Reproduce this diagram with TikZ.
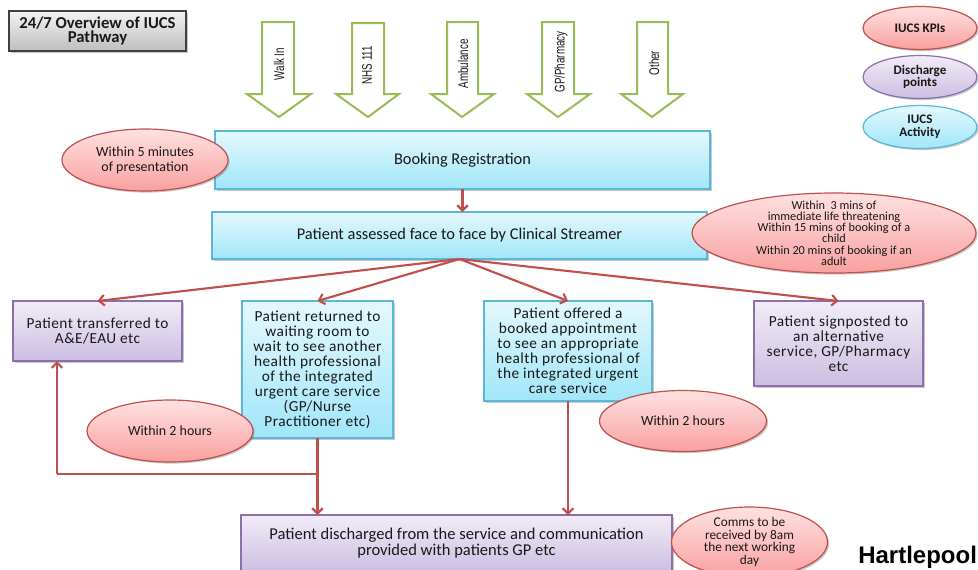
\documentclass[tikz,border=0pt]{standalone}
\usepackage{fontspec}
\setmainfont{Carlito}
\newfontfamily\trackfont{Carlito}[LetterSpace=3.0]
\newfontfamily\armfont{Liberation Sans}
\usetikzlibrary{arrows.meta,shapes.geometric,shadows}
\definecolor{cyanTop}{RGB}{228,248,253}
\definecolor{cyanBottom}{RGB}{160,230,249}
\definecolor{cyanBorder}{RGB}{91,183,213}
\definecolor{purpTop}{RGB}{241,236,247}
\definecolor{purpBottom}{RGB}{204,190,226}
\definecolor{purpBorder}{RGB}{140,112,172}
\definecolor{pinkTop}{RGB}{255,225,225}
\definecolor{pinkBottom}{RGB}{249,160,160}
\definecolor{pinkBorder}{RGB}{192,80,77}
\definecolor{redline}{RGB}{192,80,77}
\definecolor{greenArrow}{RGB}{155,187,89}
\definecolor{greyTop}{RGB}{243,243,243}
\definecolor{greyBottom}{RGB}{190,190,190}
\definecolor{greyBorder}{RGB}{64,64,64}
\begin{document}
\begin{tikzpicture}[x=0.75pt,y=-0.75pt,
  base/.style={draw, line width=0.9pt, inner sep=0pt, outer sep=0pt, align=center, text=black!90,
    drop shadow={shadow xshift=1.2pt, shadow yshift=-1.2pt, opacity=0.3, fill=black!70}},
  cbox/.style={base, rectangle, draw=cyanBorder, top color=cyanTop, bottom color=cyanBottom},
  pbox/.style={base, rectangle, draw=purpBorder, top color=purpTop, bottom color=purpBottom},
  pell/.style={base, ellipse, draw=pinkBorder, top color=pinkTop, bottom color=pinkBottom},
  rowtext/.style={font=\trackfont\fontsize{11.5pt}{11.25pt}\selectfont},
  wtext/.style={font=\fontsize{12.3pt}{13pt}\selectfont},
  etext/.style={font=\fontsize{10.5pt}{11.5pt}\selectfont},
  legtext/.style={font=\bfseries\fontsize{9.8pt}{9.5pt}\selectfont},
  redarrow/.style={draw=redline, line width=1.6pt, -{Straight Barb[length=4pt,width=8pt]}},
  redpath/.style={draw=redline, line width=1.6pt},
  greenarrow/.style={draw=greenArrow, line width=1.5pt, fill=white, line join=miter},
  armlabel/.style={rotate=90, font=\armfont\fontsize{10.5pt}{12pt}\selectfont, inner sep=0pt, text=black!90}
]
\useasboundingbox (0,0) rectangle (978,569);
\clip (0,0) rectangle (978,569);
\fill[white] (0,0) rectangle (978,569);

% title
\node[base, rectangle, draw=greyBorder, top color=greyTop, bottom color=greyBottom,
  minimum width=132.75pt, minimum height=30pt, font=\bfseries\fontsize{12.5pt}{11pt}\selectfont]
  (title) at (97.5,31) {24/7 Overview of IUCS\\Pathway};

% green entry arrows
\draw[greenarrow] (262,22) -- (294,22) -- (294,94) -- (311,94) -- (279,117) -- (247,94) -- (262,94) -- cycle;
\draw[greenarrow] (352,23) -- (384,23) -- (384,94) -- (399,94) -- (368,117) -- (336,94) -- (352,94) -- cycle;
\draw[greenarrow] (447,22) -- (478,22) -- (478,94) -- (494,94) -- (462,117) -- (431,94) -- (447,94) -- cycle;
\draw[greenarrow] (542,22) -- (574,22) -- (574,94) -- (590,94) -- (558,117) -- (527,94) -- (542,94) -- cycle;
\draw[greenarrow] (637,22) -- (668,22) -- (668,94) -- (683,94) -- (652,117) -- (621,94) -- (637,94) -- cycle;
\node[armlabel] (walkin) at (279,64) {\scalebox{0.7}[1]{Walk In}};
\node[armlabel] (nhs) at (367,65) {\scalebox{0.7}[1]{NHS 111}};
\node[armlabel] (amb) at (463,64) {\scalebox{0.7}[1]{Ambulance}};
\node[armlabel] (gpph) at (561,62) {\scalebox{0.7}[1]{GP/Pharmacy}};
\node[armlabel] (other) at (654,63) {\scalebox{0.7}[1]{Other}};

% legend
\node[pell, minimum width=85.5pt, minimum height=32.25pt, legtext] (kpi) at (920,28) {IUCS KPIs};
\node[base, ellipse, draw=purpBorder, top color=purpTop, bottom color=purpBottom,
  minimum width=85.5pt, minimum height=32.25pt, inner ysep=-4pt, legtext] (ldis) at (920,77) {Discharge\\points};
\node[base, ellipse, draw=cyanBorder, top color=cyanTop, bottom color=cyanBottom,
  minimum width=85.5pt, minimum height=32.25pt, inner ysep=-4pt, legtext] (lact) at (920,127) {IUCS\\Activity};

% boxes
\node[cbox, minimum width=371.25pt, minimum height=43.5pt, wtext] (book) at (462.5,160) {Booking Registration};
\node[cbox, minimum width=371.25pt, minimum height=35.25pt, wtext] (strm) at (459.5,235.5) {Patient assessed face to face by Clinical Streamer};
\node[pbox, minimum width=126.75pt, minimum height=45pt, rowtext] (ae) at (97.5,331) {Patient transferred to\\A\&E/EAU etc};
\node[cbox, minimum width=113.25pt, minimum height=102.75pt, rowtext] (ret) at (317.5,369.5)
  {Patient returned to\\waiting room to\\wait to see another\\health professional\\of the integrated\\urgent care service\\(GP/Nurse\\Practitioner etc)};
\node[cbox, minimum width=126pt, minimum height=75pt, rowtext] (off) at (568,351)
  {Patient offered a\\booked appointment\\to see an appropriate\\health professional of\\the integrated urgent\\care service};
\node[pbox, minimum width=126.75pt, minimum height=63.75pt, rowtext] (sign) at (838.5,343.5)
  {Patient signposted to\\an alternative\\service, GP/Pharmacy\\etc};
\node[pbox, minimum width=323.25pt, minimum height=42.75pt, font=\fontsize{12.4pt}{12pt}\selectfont] (dis) at (456.5,543.5)
  {Patient discharged from the service and communication\\provided with patients GP etc};

% connectors
\draw[redarrow] (book.south) -- (book.south |- strm.north);
\draw[redarrow] (strm.south) -- (ae.north);
\draw[redarrow] (strm.south) -- (ret.north);
\draw[redarrow] (strm.south) -- (off.north);
\draw[redarrow] (strm.south) -- (sign.north);
\coordinate (loopR) at (317.5,474);
\coordinate (loopL) at (57,474);
\draw[redpath] (ret.south) -- (loopR) -- (loopL);
\draw[redarrow] (loopL) -- (loopL |- ae.south);
\draw[redarrow] (loopR) -- (loopR |- dis.north);
\draw[redarrow] (off.south) -- (off.south |- dis.north);

% KPI ellipses
\node[pell, minimum width=124.5pt, minimum height=46.5pt, inner ysep=-4pt, etext] (e5) at (145,160) {Within 5 minutes\\of presentation};
\node[pell, minimum width=213pt, minimum height=60pt, inner ysep=-14pt, inner xsep=-10pt, font=\fontsize{9.2pt}{8.4pt}\selectfont] (ebig) at (834,233)
  {Within\ \ 3 mins of\\immediate life threatening\\Within 15 mins of booking of a\\child\\Within 20 mins of booking if an\\adult};
\node[pell, minimum width=124.5pt, minimum height=46.5pt, etext] (e2l) at (170,431) {Within 2 hours};
\node[pell, minimum width=125.25pt, minimum height=45.75pt, etext] (e2r) at (683,421) {Within 2 hours};
\node[pell, minimum width=117pt, minimum height=52.5pt, inner ysep=-14pt, inner xsep=-6pt, font=\fontsize{10pt}{9.4pt}\selectfont] (ecomms) at (749.5,542)
  {Comms to be\\received by 8am\\the next working\\day};

\node[anchor=base west, inner sep=0pt, font=\armfont\bfseries\fontsize{18pt}{20pt}\selectfont] (hp) at (858,563) {Hartlepool};
\end{tikzpicture}
\end{document}
